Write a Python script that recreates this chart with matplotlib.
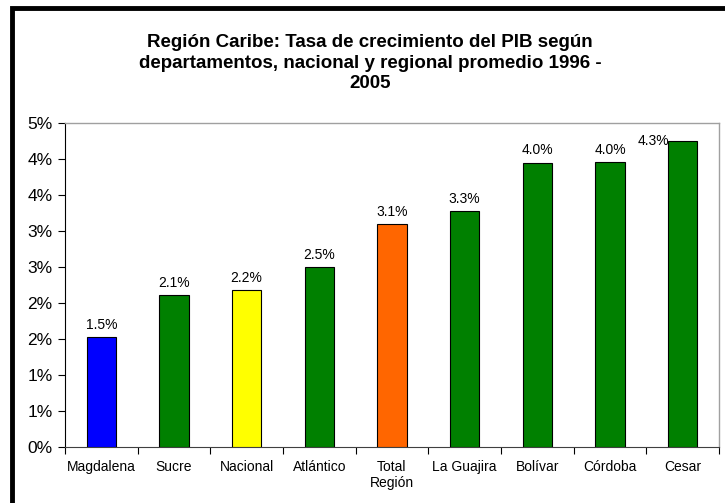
import matplotlib
matplotlib.use("Agg")
import matplotlib.pyplot as plt
from matplotlib.patches import Rectangle
from matplotlib.ticker import FuncFormatter, MultipleLocator
import numpy as np

categories = ["Magdalena", "Sucre", "Nacional", "Atlántico", "Total\nRegión",
              "La Guajira", "Bolívar", "Córdoba", "Cesar"]
values = [1.53, 2.11, 2.18, 2.50, 3.10, 3.28, 3.95, 3.96, 4.26]
colors = ["#0000FF", "#008000", "#FFFF00", "#008000", "#FF6600",
          "#008000", "#008000", "#008000", "#008000"]
title = "Región Caribe: Tasa de crecimiento del PIB según\ndepartamentos, nacional y regional promedio 1996 -\n2005"

plt.rcParams["font.family"] = ["Liberation Sans", "DejaVu Sans"]

fig = plt.figure(figsize=(7.25, 5.03), dpi=100)
ax = fig.add_axes([65 / 725, (503 - 447.3) / 503, (719 - 65) / 725, (447.3 - 123.3) / 503])

x = np.arange(len(categories))
bars = ax.bar(x, values, width=0.4, color=colors, edgecolor="black", linewidth=0.8, zorder=3)

ax.set_xlim(-0.5, len(categories) - 0.5)
ax.set_ylim(0, 4.5)
ax.yaxis.set_major_locator(MultipleLocator(0.5))
ax.yaxis.set_major_formatter(FuncFormatter(lambda v, p: "%d%%" % int(np.floor(v + 0.5 + 1e-9))))
ax.tick_params(axis="y", direction="out", length=5, width=0.8, labelsize=12.5, pad=4, colors="black")

ax.set_xticks(np.arange(-0.5, len(categories), 1.0))
ax.set_xticklabels([])
ax.set_xticks(x, minor=True)
ax.set_xticklabels(categories, minor=True, fontsize=10)
ax.tick_params(axis="x", which="major", direction="out", length=5, width=0.8)
ax.tick_params(axis="x", which="minor", length=0, pad=9)

for s in ["top", "right"]:
    ax.spines[s].set_color("#A0A0A0")
    ax.spines[s].set_linewidth(1.0)
ax.spines["left"].set_color("black")
ax.spines["bottom"].set_color("#404040")

for i, (b, v) in enumerate(zip(bars, values)):
    label = "%.1f%%" % v
    if i == len(values) - 1:
        ax.annotate(label, (b.get_x() + b.get_width() / 2, v), xytext=(-21, -5),
                    textcoords="offset points", ha="center", va="bottom", fontsize=10)
    else:
        ax.annotate(label, (b.get_x() + b.get_width() / 2, v), xytext=(0, 4),
                    textcoords="offset points", ha="center", va="bottom", fontsize=10)

fig.text(370 / 725, (503 - 63) / 503, title, ha="center", va="center",
         fontsize=13.5, fontweight="bold", linespacing=1.3)

# outer chart frame (left and top edges visible)
fig.patches.append(Rectangle((11.5 / 725, -0.05), 1.2, (503 - 8) / 503 + 0.05,
                             transform=fig.transFigure, fill=False, edgecolor="black",
                             linewidth=3.5, zorder=10))

fig.savefig("out.png", dpi=100)
